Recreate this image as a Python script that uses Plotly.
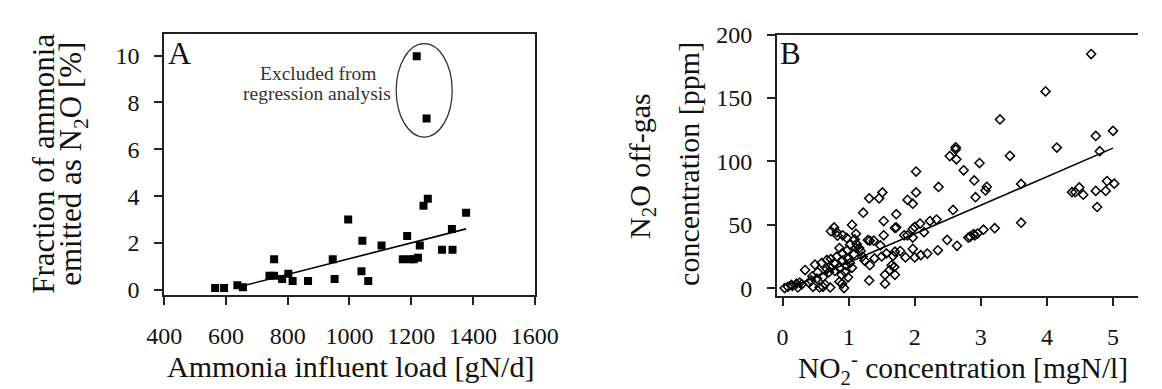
import plotly.graph_objects as go

# ---------------- Panel A: N2O emission fraction vs ammonia load ----------------
load_a = [565, 594, 637, 655, 741, 756, 756, 782, 802, 816, 866, 946, 952, 996,
          1039, 1042, 1061, 1104, 1173, 1187, 1195, 1208, 1222, 1228, 1240, 1254,
          1300, 1332, 1334, 1378]
frac_a = [0.08, 0.08, 0.19, 0.11, 0.6, 0.6, 1.3, 0.46, 0.68, 0.37, 0.37, 1.3, 0.46, 3.0,
          0.79, 2.09, 0.37, 1.89, 1.3, 2.3, 1.3, 1.3, 1.37, 1.89, 3.59, 3.89,
          1.71, 2.6, 1.71, 3.29]
# points left out of the regression
load_excl = [1218, 1250]
frac_excl = [9.97, 7.32]
# regression line end points
fit_a_x = [635, 1378]
fit_a_y = [0.1, 2.6]

# ---------------- Panel B: N2O off-gas vs nitrite ----------------
no2_b = [4.67, 3.98, 3.29, 5.0, 4.74, 4.15, 4.80, 2.62, 2.62, 2.53, 2.63, 3.44, 2.98, 2.74,
         2.90, 3.09, 3.07, 2.92, 3.61, 2.58, 4.38, 4.43, 4.49, 4.55, 4.74, 4.89, 4.91, 5.02,
         4.76, 3.61, 3.21, 3.04, 2.95, 2.89, 2.84, 2.91, 2.81, 2.49, 2.64, 2.35,
         2.36, 2.02, 2.02, 1.97, 1.89, 1.51, 1.46, 1.31, 1.22, 1.53, 1.72, 1.72, 1.70,
         2.33, 2.23, 2.08, 2.14, 1.97, 1.97, 1.89, 1.84, 2.19, 2.09, 1.97, 2.0, 1.86,
         1.78, 1.70, 1.67, 1.53, 1.38, 1.29, 1.48, 1.39, 1.32, 1.50, 1.55, 1.55, 1.62,
         1.69, 1.70, 1.65, 1.31, 1.24, 1.18, 1.11, 1.05, 0.98, 0.86, 0.91, 0.82, 0.73,
         0.78, 1.09, 1.05, 0.95, 1.02, 0.91, 0.86, 0.78, 0.73, 0.70, 0.61, 0.67, 0.59,
         0.49, 0.34, 0.45, 0.53, 0.86, 0.93, 0.72, 0.61, 0.56, 0.46, 0.40, 0.29, 0.23,
         0.15, 0.08, 0.03, 0.13, 0.21, 0.26, 0.67, 0.79, 0.89, 0.99, 1.08, 1.16, 1.21,
         1.32, 0.96, 0.82, 0.90, 0.73, 0.43, 0.52, 0.64, 0.90, 0.99, 0.83, 0.97, 1.12,
         2.0, 1.02, 1.11, 1.57]
n2o_b = [184.6, 155.2, 133.1, 124.1, 120.1, 110.9, 108.1, 111.1, 109.4, 104.2, 101.7, 104.4, 98.7, 93.0,
         85.0, 80.0, 77.1, 71.8, 82.3, 61.8, 75.8, 75.8, 79.5, 73.8, 76.8, 76.8, 84.5, 82.5,
         64.1, 51.7, 47.4, 46.2, 43.2, 42.7, 40.7, 41.7, 40.0, 38.2, 33.5, 30.0,
         79.9, 92.0, 75.6, 66.7, 69.7, 75.6, 70.9, 70.9, 59.6, 53.0, 58.4, 48.0, 47.6,
         54.2, 53.0, 51.0, 44.3, 46.8, 40.0, 41.8, 41.8, 27.4, 26.1, 31.1, 24.4, 24.4,
         29.4, 28.9, 25.6, 41.8, 37.6, 38.0, 33.8, 23.6, 18.2, 25.1, 3.7, 10.7, 14.4,
         16.9, 10.7, 18.2, 6.2, 21.9, 29.4, 31.8, 50.0, 30.1, 31.8, 41.8, 44.3, 45.0,
         48.0, 38.6, 16.2, 12.7, 19.9, 21.9, 16.2, 19.9, 16.2, 12.7, 8.7, 22.4, 19.9,
         18.7, 14.4, 9.5, 12.7, 5.2, 0.2, 0.7, 1.2, 0.7, 1.2, 4.5, 3.2, 0.7,
         2.0, 1.2, 0.2, 2.7, 3.7, 4.5, 15.2, 13.7, 10.7, 23.1, 26.9, 31.8, 25.1,
         37.6, 18.2, 25.1, 27.6, 23.1, 6.2, 7.7, 3.2, 3.7, 8.7, 41.5, 39.7, 35.0,
         48.4, 34.3, 43.0, 27.5]
fit_b_x = [0.15, 5.0]
fit_b_y = [1.3, 110.5]

SERIF = "Liberation Serif, Times New Roman, serif"
INK = "#222222"
W, H = 1162, 389


def px(x):
    return x / W


def py(y):
    return 1 - y / H


fig = go.Figure()

fig.add_trace(go.Scatter(x=load_a, y=frac_a, mode="markers",
                         marker=dict(symbol="square", size=8, color="#000000"),
                         xaxis="x", yaxis="y", showlegend=False))
fig.add_trace(go.Scatter(x=load_excl, y=frac_excl, mode="markers",
                         marker=dict(symbol="square", size=8, color="#000000"),
                         xaxis="x", yaxis="y", showlegend=False))
fig.add_trace(go.Scatter(x=fit_a_x, y=fit_a_y, mode="lines",
                         line=dict(color="#000000", width=1.6),
                         xaxis="x", yaxis="y", showlegend=False))

fig.add_trace(go.Scatter(x=no2_b, y=n2o_b, mode="markers",
                         marker=dict(symbol="diamond-open", size=7, color="#000000",
                                     line=dict(width=1.5, color="#000000")),
                         xaxis="x2", yaxis="y2", showlegend=False))
fig.add_trace(go.Scatter(x=fit_b_x, y=fit_b_y, mode="lines",
                         line=dict(color="#000000", width=1.6),
                         xaxis="x2", yaxis="y2", showlegend=False))

axis_common = dict(showgrid=False, zeroline=False, showline=True, linecolor=INK, linewidth=1.6,
                   ticks="outside", ticklen=8, tickwidth=1.6, tickcolor=INK,
                   tickfont=dict(family=SERIF, size=24, color="#111111"))

fig.update_layout(
    width=W, height=H, autosize=False,
    margin=dict(l=0, r=0, t=0, b=0),
    paper_bgcolor="white", plot_bgcolor="white",
    xaxis=dict(domain=[px(151.7), px(536)], range=[400, 1600], dtick=200, tick0=400,
               anchor="y", mirror=True, ticklabelstandoff=10, **axis_common),
    yaxis=dict(domain=[py(297.7), py(22)], range=[-0.24, 10.93], dtick=2, tick0=0,
               anchor="x", mirror=True, ticklabelstandoff=10, **axis_common),
    xaxis2=dict(domain=[px(787.3), 1.0], range=[-0.0875, 5.379], dtick=1, tick0=0,
                anchor="y2", mirror=True, ticklabelstandoff=10, **axis_common),
    yaxis2=dict(domain=[py(298.3), py(22.7)], range=[-6, 200], dtick=50, tick0=0,
                anchor="x2", mirror=False, ticklabelstandoff=10, **axis_common),
)

# outlier ellipse
fig.add_shape(type="circle", xref="x", yref="y", x0=1151.6, x1=1332.9, y0=6.52, y1=10.51,
              line=dict(color="#333333", width=1.3))


def note(text, x, y, size, angle=0, xanchor="center", color="#111111"):
    fig.add_annotation(text=text, x=px(x), y=py(y), xref="paper", yref="paper",
                       xanchor=xanchor, yanchor="middle", showarrow=False, textangle=angle,
                       font=dict(family=SERIF, size=size, color=color))


# panel letters
note("A", 154, 42.5, 32, xanchor="left")
note("B", 788, 42.3, 31, xanchor="left")

# callout text
note("Excluded from", 311, 63.4, 19.5, color="#333333")
note("regression analysis", 310, 85.2, 19.5, color="#333333")

# axis titles, panel A
note("Fraction of ammonia", 26.9, 159, 31, angle=-90)
note("emitted as N<sub>2</sub>O [%]", 57, 159, 31, angle=-90)
note("Ammonia influent load [gN/d]", 345, 372.6, 30)

# axis titles, panel B
note("N<sub>2</sub>O off-gas", 648, 161.7, 30, angle=-90)
note("concentration [ppm]", 695.5, 158.7, 30, angle=-90)
note("NO<sub>2</sub><sup>-</sup> concentration [mgN/l]", 980, 374.3, 29.5)

fig.write_html("out.html")
